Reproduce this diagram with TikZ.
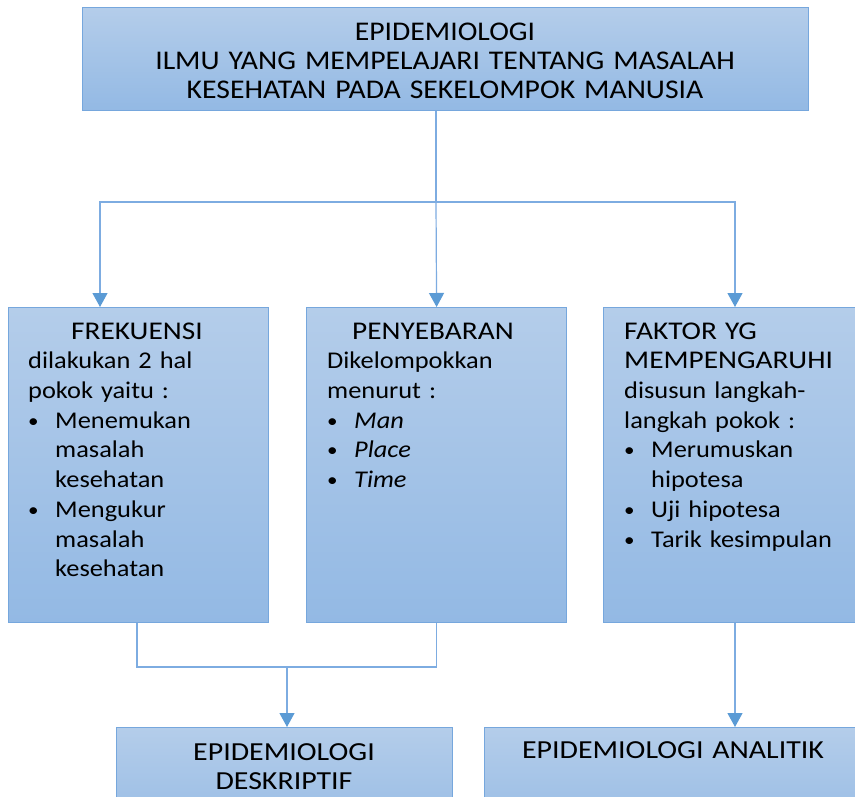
\documentclass[tikz,border=0pt]{standalone}
\usepackage{graphicx}
\usepackage{fontspec}
\setmainfont{Carlito}[FakeStretch=1.1]
\newfontfamily\capsfont{Carlito}[FakeStretch=1.15]
\usetikzlibrary{arrows.meta}
\definecolor{boxtop}{RGB}{180,205,234}
\definecolor{boxbot}{RGB}{147,185,228}
\definecolor{boxline}{RGB}{118,167,221}
\definecolor{wire}{RGB}{125,172,225}
\definecolor{tipc}{RGB}{91,155,213}
\newcommand\itembul{\makebox[27pt][l]{\raisebox{1pt}{\scalebox{0.8}{\textbullet}}}}
\newcommand\itemgap{\hspace*{27pt}}
\newcommand\headcaps[1]{{\capsfont\fontsize{25.5}{29.7}\selectfont #1}}
\begin{document}
\begin{tikzpicture}[x=1pt,y=-1pt,
  panel/.style={rectangle, draw=boxline, line width=1.2pt, top color=boxtop,
    bottom color=boxbot, inner sep=0pt, anchor=north west},
  txt/.style={anchor=north west, inner sep=0pt, align=left, text width=#1,
    font=\fontsize{24}{29.7}\selectfont},
  ctxt/.style={anchor=north, inner sep=0pt, align=center, text width=#1},
  wirel/.style={draw=wire, line width=1.2pt},
  feed/.style={wirel, -{Triangle[width=15pt,length=14pt,fill=tipc,color=tipc]}}]
\clip (0,0) rectangle (855,797);
\fill[white] (0,0) rectangle (855,797);

% boxes
\node[panel, minimum width=726pt, minimum height=103pt] (top) at (82,7) {};
\node[panel, minimum width=260pt, minimum height=315pt] (freq) at (8,307) {};
\node[panel, minimum width=260pt, minimum height=315pt] (spread) at (306,307) {};
\node[panel, minimum width=300pt, minimum height=315pt] (factor) at (603,307) {};
\node[panel, minimum width=336pt, minimum height=120pt] (desk) at (116,727) {};
\node[panel, minimum width=420pt, minimum height=120pt] (anal) at (484,727) {};

% texts
\node[ctxt=720pt, font=\fontsize{27}{29}\selectfont] (toptext) at (445,19.7)
  {\strut EPIDEMIOLOGI\\ILMU YANG MEMPELAJARI TENTANG MASALAH\\KESEHATAN PADA SEKELOMPOK MANUSIA};
\node[txt=236pt] (freqtext) at (28,318.2)
  {\strut\hspace*{43pt}\headcaps{FREKUENSI}\\dilakukan 2 hal\\pokok yaitu :\\
   \itembul Menemukan\\\itemgap masalah\\\itemgap kesehatan\\
   \itembul Mengukur\\\itemgap masalah\\\itemgap kesehatan};
\node[txt=236pt] (spreadtext) at (327,318.2)
  {\strut\hspace*{25pt}\headcaps{PENYEBARAN}\\Dikelompokkan\\menurut :\\
   \itembul\textit{Man}\\\itembul\textit{Place}\\\itembul\textit{Time}};
\node[txt=240pt] (factortext) at (624,318.2)
  {\strut\headcaps{FAKTOR YG}\\\headcaps{MEMPENGARUHI}\\disusun langkah-\\langkah pokok :\\
   \itembul Merumuskan\\\itemgap hipotesa\\\itembul Uji hipotesa\\\itembul Tarik kesimpulan};
\node[ctxt=330pt, font=\capsfont\fontsize{26}{29}\selectfont] (desktext) at (284,739.7)
  {\strut EPIDEMIOLOGI\\DESKRIPTIF};
\node[ctxt=380pt, font=\capsfont\fontsize{26}{29}\selectfont] (analtext) at (673,737.7)
  {\strut EPIDEMIOLOGI ANALITIK};

% connectors
\coordinate (j1) at (436,202);
\coordinate (xa) at (100,0);
\coordinate (xr) at (735,0);
\coordinate (xl) at (137,0);
\coordinate (j2) at (287,667);
\draw[wirel] (top.south -| j1) -- (j1);
\draw[feed] (j1) -| (freq.north -| xa);
\draw[feed] (j1) -- (spread.north);
\draw[feed] (j1) -| (factor.north -| xr);
\draw[wirel] (freq.south -| xl) |- (j2) -| (spread.south);
\draw[feed] (j2) -- (desk.north -| j2);
\draw[feed] (factor.south -| xr) -- (anal.north -| xr);
\end{tikzpicture}
\end{document}
